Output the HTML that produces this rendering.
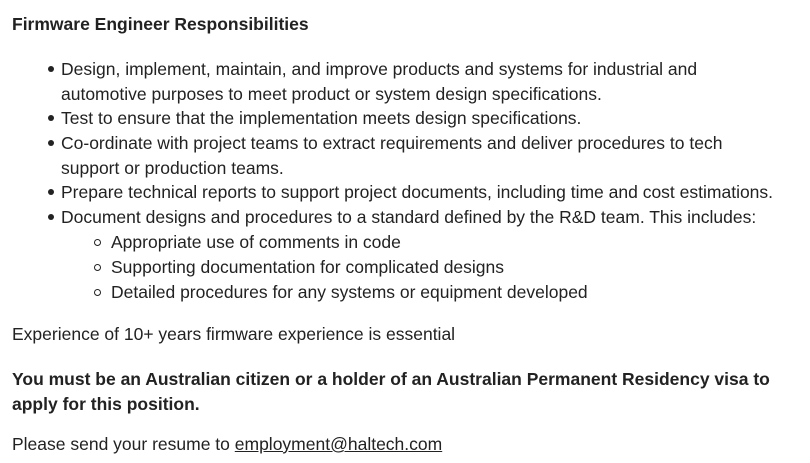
<!DOCTYPE html>
<html><head><meta charset="utf-8"><style>
body{margin:0;width:810px;height:463px;background:#fff;font-family:"Liberation Sans",Arial,sans-serif;font-size:17.5px;color:#222;position:relative;overflow:hidden}
.l{position:absolute;white-space:nowrap;line-height:20px}
.b{font-weight:bold}
.dot{position:absolute;width:6px;height:6px;border-radius:50%;background:#222}
.circ{position:absolute;border-radius:50%;border:1.3px solid #222;box-sizing:border-box;width:7px;height:7px}
a{color:#222;text-decoration:underline}
</style></head><body>
<div class="l b" style="left:12px;top:14px">Firmware Engineer Responsibilities</div>

<div class="dot" style="left:48px;top:66px"></div>
<div class="l" style="left:61px;top:59px">Design, implement, maintain, and improve products and systems for industrial and</div>
<div class="l" style="left:61px;top:84px">automotive purposes to meet product or system design specifications.</div>

<div class="dot" style="left:48px;top:115px"></div>
<div class="l" style="left:61px;top:108px">Test to ensure that the implementation meets design specifications.</div>

<div class="dot" style="left:48px;top:140px"></div>
<div class="l" style="left:61px;top:133px">Co-ordinate with project teams to extract requirements and deliver procedures to tech</div>
<div class="l" style="left:61px;top:158px">support or production teams.</div>

<div class="dot" style="left:48px;top:189px"></div>
<div class="l" style="left:61px;top:182px">Prepare technical reports to support project documents, including time and cost estimations.</div>

<div class="dot" style="left:48px;top:214px"></div>
<div class="l" style="left:61px;top:207px">Document designs and procedures to a standard defined by the R&amp;D team. This includes:</div>

<div class="circ" style="left:94px;top:239px"></div>
<div class="l" style="left:111px;top:232px">Appropriate use of comments in code</div>
<div class="circ" style="left:94px;top:264px"></div>
<div class="l" style="left:111px;top:257px">Supporting documentation for complicated designs</div>
<div class="circ" style="left:94px;top:289px"></div>
<div class="l" style="left:111px;top:282px">Detailed procedures for any systems or equipment developed</div>

<div class="l" style="left:12px;top:324px">Experience of 10+ years firmware experience is essential</div>

<div class="l b" style="left:12px;top:369px">You must be an Australian citizen or a holder of an Australian Permanent Residency visa to</div>
<div class="l b" style="left:12px;top:394px">apply for this position.</div>

<div class="l" style="left:12px;top:434px">Please send your resume to <a>employment@haltech.com</a></div>
</body></html>
